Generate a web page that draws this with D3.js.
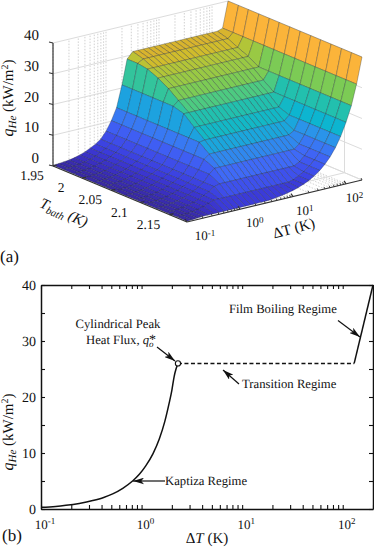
<!DOCTYPE html>
<html lang="en">
<head>
  <meta charset="UTF-8" />
  <title>Helium heat flux</title>
  <style>
    html, body { margin: 0; padding: 0; background: #fff; }
    svg { display: block; text-rendering: geometricPrecision; }
    text { font-family: "Liberation Serif", serif; font-size: 12.7px; fill: #111; }
    .it { font-style: italic; }
    .cell { stroke: #1c2330; stroke-width: 0.55px; stroke-opacity: 0.55; stroke-linejoin: round; }
    .wall { stroke: #dcdcdc; stroke-width: 1px; fill: none; }
    .wall-dot { stroke: #bdbdbd; stroke-width: 0.7px; stroke-dasharray: 1.5 1.5; fill: none; }
    .axis3d { stroke: #333; stroke-width: 1.2px; fill: none; }
  </style>
  <script src="https://d3js.org/d3.v7.min.js"></script>
</head>
<body>
  <svg id="chart" width="374" height="548"></svg>
  <script type="text/javascript">
    // surface grid
    const bathTemps = [1.95, 1.968, 1.985, 2.003, 2.021, 2.038, 2.056, 2.074, 2.092, 2.109, 2.127, 2.145, 2.162, 2.18];
    const peakFlux = [31, 30, 28.5, 27, 25, 22.5, 20, 17, 14.3, 11.5, 8.7, 5.5, 2.8, 0.6];
    const gridDeltaT = [0.1, 0.126, 0.158, 0.2, 0.25, 0.32, 0.4, 0.5, 0.63, 0.79, 1, 1.26, 1.58, 2, 2.5, 3.2, 4, 5, 6.3, 7.9, 10, 12.6, 15.8, 20, 25, 32, 40, 50, 63, 79, 100, 126, 158, 200];
    const gridKapitza = [0.25, 0.35, 0.5, 0.7, 1, 1.5, 2.1, 2.9, 3.8, 5, 7.2, 10.2, 14, 21, 29, 46, 70, 70, 70, 70, 70, 70, 70, 70, 70, 70, 70, 70, 70, 70, 70, 70, 70, 70];
    const gridFilm = [0.02, 0.025, 0.03, 0.04, 0.05, 0.06, 0.08, 0.1, 0.13, 0.16, 0.2, 0.25, 0.32, 0.4, 0.5, 0.64, 0.8, 1, 1.26, 1.58, 2, 2.5, 3.2, 4, 5, 6.4, 8, 10, 12.6, 15.8, 20, 25, 31.6, 40];

    // colour of a cell against the flux at its first corner
    const colourFlux = [0, 1, 3, 6, 9, 12.6, 15.8, 20, 23, 25, 28, 30, 31, 31.6, 40];
    const colourHex = ["#38289a", "#3a2fc0", "#3b3cdc", "#3f55f0", "#3f6cf8", "#2a94ea", "#0db5d0", "#22c0ae", "#55cc78", "#7ccb55", "#a8c83c", "#d0bc2c", "#d8b42e", "#fbb43a", "#fbb43a"];

    const tempTicks = [1.95, 2, 2.05, 2.1, 2.15];
    const tempTickLabels = ["1.95", "2", "2.05", "2.1", "2.15"];
    const fluxTicks = [0, 10, 20, 30, 40];
    const decadeTicks = [0.1, 1, 10, 100];
    const decadeExp = ["-1", "0", "1", "2"];
    const minorDeltaT = [0.2, 0.3, 0.4, 0.5, 0.6, 0.7, 0.8, 0.9, 2, 3, 4, 5, 6, 7, 8, 9, 20, 30, 40, 50, 60, 70, 80, 90, 200];

    // panel (b) curves
    const kapitzaDeltaT = [0.1, 0.14, 0.177, 0.24, 0.327, 0.42, 0.516, 0.65, 0.814, 0.95, 1.1, 1.3, 1.5, 1.7, 1.88, 2.0, 2.11, 2.2, 2.3];
    const kapitzaFlux = [0.3, 0.45, 0.65, 1.0, 1.5, 2.05, 2.7, 3.7, 5.0, 6.2, 7.7, 9.9, 12.5, 15.6, 18.9, 21.2, 23.7, 25, 26];
    const transitionDeltaT = [2.3, 130];
    const transitionFlux = [26, 26];
    const filmDeltaT = [130, 200];
    const filmFlux = [26, 40];
    const peakPoint = [2.3, 26];

    const svg = d3.select("#chart");

    // ---------- panel (a), a fixed oblique view ----------
    const u3 = d3.scaleLog().domain([0.1, 200]).range([0, 1]);
    const t3 = d3.scaleLinear().domain([1.95, 2.18]).range([0, 1]);
    const z3 = d3.scaleLinear().domain([0, 40]).range([0, 123]);
    const colour = d3.scaleLinear().domain(colourFlux).range(colourHex);

    function project(T, dT, q) {
      const u = u3(dT), t = t3(T);
      return [53 + 175 * u + 134 * t, 166 - 42 * u + 56 * t - z3(q)];
    }
    function seg(g, a, b, cls) {
      g.append("line").attr("class", cls)
        .attr("x1", a[0]).attr("y1", a[1]).attr("x2", b[0]).attr("y2", b[1]);
    }

    const a = svg.append("g");
    const tLo = 1.95, tHi = 2.18, dLo = 0.1, dHi = 200;

    // back walls and floor
    const allDecades = decadeTicks.concat(minorDeltaT.slice(0, -1));
    allDecades.forEach(d => {
      seg(a, project(tLo, d, 0), project(tLo, d, 40), "wall-dot");
      seg(a, project(tLo, d, 0), project(tHi, d, 0), "wall-dot");
    });
    tempTicks.forEach(T => {
      seg(a, project(T, dHi, 0), project(T, dHi, 40), "wall");
      seg(a, project(T, dLo, 0), project(T, dHi, 0), "wall");
    });
    fluxTicks.forEach(q => {
      seg(a, project(tLo, dLo, q), project(tLo, dHi, q), "wall");
      seg(a, project(tLo, dHi, q), project(tHi, dHi, q), "wall");
    });
    seg(a, project(tLo, dHi, 0), project(tHi, dHi, 0), "wall");

    // surface cells, far ones first
    const flux = bathTemps.map((T, i) => gridDeltaT.map((d, j) =>
      Math.max(gridFilm[j], Math.min(gridKapitza[j], peakFlux[i]))));

    const cells = [];
    d3.range(bathTemps.length - 1).forEach(i => {
      d3.range(gridDeltaT.length - 1).forEach(j => {
        cells.push({ i, j, depth: project(bathTemps[i], gridDeltaT[j], 0)[1] + project(bathTemps[i + 1], gridDeltaT[j + 1], 0)[1] });
      });
    });
    cells.sort((p, q) => d3.ascending(p.depth, q.depth));

    a.selectAll(".cell")
      .data(cells)
      .enter().append("polygon")
      .attr("class", "cell")
      .attr("fill", c => colour(flux[c.i][c.j]))
      .attr("points", c => [[c.i, c.j], [c.i, c.j + 1], [c.i + 1, c.j + 1], [c.i + 1, c.j]]
        .map(p => project(bathTemps[p[0]], gridDeltaT[p[1]], flux[p[0]][p[1]]).join(",")).join(" "));

    // axes of panel (a)
    seg(a, project(tLo, dLo, 0), project(tLo, dLo, 40), "axis3d");
    seg(a, project(tLo, dLo, 0), project(tHi, dLo, 0), "axis3d");
    seg(a, project(tHi, dLo, 0), project(tHi, dHi, 0), "axis3d");

    fluxTicks.forEach(q => {
      const p = project(tLo, dLo, q);
      a.append("line").attr("class", "axis3d").attr("x1", p[0]).attr("y1", p[1]).attr("x2", p[0] - 4).attr("y2", p[1] - 1);
      a.append("text").attr("x", 39).attr("y", p[1] - 3).attr("text-anchor", "end").style("font-size", "15px").text(q);
    });
    tempTicks.forEach((T, i) => {
      const p = project(T, dLo, 0);
      a.append("line").attr("class", "axis3d").attr("x1", p[0]).attr("y1", p[1]).attr("x2", p[0] + 4).attr("y2", p[1] - 1);
      a.append("text").attr("x", p[0] - 21).attr("y", p[1] + 14).attr("text-anchor", "middle").style("font-size", "13.5px").text(tempTickLabels[i]);
    });
    decadeTicks.forEach((d, i) => {
      const p = project(tHi, d, 0);
      a.append("line").attr("class", "axis3d").attr("x1", p[0]).attr("y1", p[1]).attr("x2", p[0] - 2).attr("y2", p[1] - 3);
      const label = a.append("text").attr("x", p[0] + 18 - 3.2 * i).attr("y", p[1] + 18).attr("text-anchor", "middle");
      label.append("tspan").style("font-size", "13px").text("10");
      label.append("tspan").attr("dy", -4).style("font-size", "9px").text(decadeExp[i]);
    });
    minorDeltaT.forEach(d => {
      const p = project(tHi, d, 0);
      a.append("line").attr("class", "axis3d").style("stroke-width", "0.9px").attr("x1", p[0]).attr("y1", p[1]).attr("x2", p[0] - 1).attr("y2", p[1] - 2);
    });

    function fluxTitle(g, x, y) {
      const t = g.append("text").attr("transform", `translate(${x},${y}) rotate(-90)`)
        .attr("text-anchor", "middle");
      t.append("tspan").attr("class", "it").style("font-size", "16px").text("q");
      t.append("tspan").attr("class", "it").attr("dy", 3).style("font-size", "11px").text("He");
      t.append("tspan").attr("dy", -3).style("font-size", "15px").text(" (kW/m");
      t.append("tspan").attr("dy", -5).style("font-size", "10px").text("2");
      t.append("tspan").attr("dy", 5).style("font-size", "15px").text(")");
    }
    fluxTitle(a, 13, 98);

    const tBath = a.append("text").attr("transform", "translate(62,217) rotate(24)").attr("text-anchor", "middle");
    tBath.append("tspan").attr("class", "it").style("font-size", "15px").text("T");
    tBath.append("tspan").attr("class", "it").attr("dy", 3).style("font-size", "10.5px").text("bath");
    tBath.append("tspan").attr("class", "it").attr("dy", -3).style("font-size", "15px").text(" (K)");

    const dTitle = a.append("text").attr("transform", "translate(295,233) rotate(-15)").attr("text-anchor", "middle");
    dTitle.append("tspan").style("font-size", "15px").text("ΔT (K)");

    a.append("text").attr("x", 0).attr("y", 262).style("font-size", "17px").text("(a)");

    // ---------- panel (b) ----------
    const x = d3.scaleLog().domain([0.1, 200]).range([41, 373]);
    const y = d3.scaleLinear().domain([0, 40]).range([509, 285]);
    const b = svg.append("g");

    function inward(g) {
      g.selectAll(".domain").attr("stroke-width", 1.5).attr("stroke", "#111");
      g.selectAll(".tick line").attr("stroke", "#111").attr("stroke-width", 1.1);
    }

    const majorX = [0.1, 1, 10, 100];
    const bottomAxis = d3.axisBottom(x).tickValues(majorX.concat(minorDeltaT)).tickSizeOuter(0).tickSizeInner(-4).tickFormat("");
    const topAxis = d3.axisTop(x).tickValues(majorX.concat(minorDeltaT)).tickSizeOuter(0).tickSizeInner(-4).tickFormat("");
    const leftAxis = d3.axisLeft(y).tickValues(d3.range(0, 41, 5)).tickSizeOuter(0).tickSizeInner(-4).tickFormat("");
    const rightAxis = d3.axisRight(y).tickValues(d3.range(0, 41, 5)).tickSizeOuter(0).tickSizeInner(-4).tickFormat("");

    b.append("g").attr("transform", "translate(0,509)").call(bottomAxis).call(inward);
    b.append("g").attr("transform", "translate(0,285)").call(topAxis).call(inward);
    b.append("g").attr("transform", "translate(41,0)").call(leftAxis).call(inward);
    b.append("g").attr("transform", "translate(373,0)").call(rightAxis).call(inward);

    decadeTicks.forEach((d, i) => {
      const label = b.append("text").attr("x", x(d) + 4).attr("y", 529).attr("text-anchor", "middle");
      label.append("tspan").style("font-size", "13px").text("10");
      label.append("tspan").attr("dy", -5).style("font-size", "9px").text(decadeExp[i]);
    });
    fluxTicks.forEach(q => {
      b.append("text").attr("x", 36).attr("y", y(q) + 4.5).attr("text-anchor", "end").style("font-size", "14px").text(q);
    });

    function curve(xs, ys, dash, shape) {
      const line = d3.line().x(d => x(d[0])).y(d => y(d[1])).curve(shape);
      b.append("path").datum(xs.map((v, i) => [v, ys[i]]))
        .attr("fill", "none").attr("stroke", "#111").attr("stroke-width", 1.5)
        .attr("stroke-dasharray", dash).attr("d", line);
    }
    curve(transitionDeltaT, transitionFlux, "4 2.5", d3.curveLinear);
    curve(kapitzaDeltaT, kapitzaFlux, null, d3.curveMonotoneX);
    curve(filmDeltaT, filmFlux, null, d3.curveLinear);

    b.append("circle").attr("cx", x(peakPoint[0])).attr("cy", y(peakPoint[1])).attr("r", 2.6)
      .attr("fill", "#fff").attr("stroke", "#111").attr("stroke-width", 1.1);

    // annotation arrows
    svg.append("defs").append("marker").attr("id", "head")
      .attr("viewBox", "0 0 10 6").attr("refX", 10).attr("refY", 3)
      .attr("markerUnits", "userSpaceOnUse").attr("markerWidth", 11).attr("markerHeight", 7).attr("orient", "auto")
      .append("path").attr("d", "M0,0L10,3L0,6L2.5,3Z").attr("fill", "#111");

    function arrow(x1, y1, x2, y2) {
      b.append("line").attr("x1", x1).attr("y1", y1).attr("x2", x2).attr("y2", y2)
        .attr("stroke", "#111").attr("stroke-width", 1.2).attr("marker-end", "url(#head)");
    }
    arrow(165, 481, 133, 481);
    arrow(338, 320.5, 360, 337);
    arrow(157, 347, 175, 361);
    arrow(239, 384, 223, 370);

    function note(px, py, str, anchor) {
      b.append("text").attr("x", px).attr("y", py).attr("text-anchor", anchor || "start").text(str);
    }
    note(229, 313, "Film Boiling Regime");
    note(118, 328, "Cylindrical Peak", "middle");
    note(242, 388, "Transition Regime");
    note(165, 485, "Kaptiza Regime");

    const heat = b.append("text").attr("x", 86).attr("y", 344);
    heat.append("tspan").text("Heat Flux, ");
    heat.append("tspan").attr("class", "it").text("q");
    heat.append("tspan").attr("class", "it").attr("dy", 3).style("font-size", "9px").text("o");
    heat.append("tspan").attr("dx", -4.5).attr("dy", -3).style("font-size", "14px").text("*");

    const dT2 = b.append("text").attr("x", 207).attr("y", 543).attr("text-anchor", "middle").style("font-size", "15px");
    dT2.append("tspan").text("Δ");
    dT2.append("tspan").attr("class", "it").text("T");
    dT2.append("tspan").text(" (K)");

    fluxTitle(b, 13, 432);
    b.append("text").attr("x", 2).attr("y", 541).style("font-size", "17px").text("(b)");
  </script>
</body>
</html>
